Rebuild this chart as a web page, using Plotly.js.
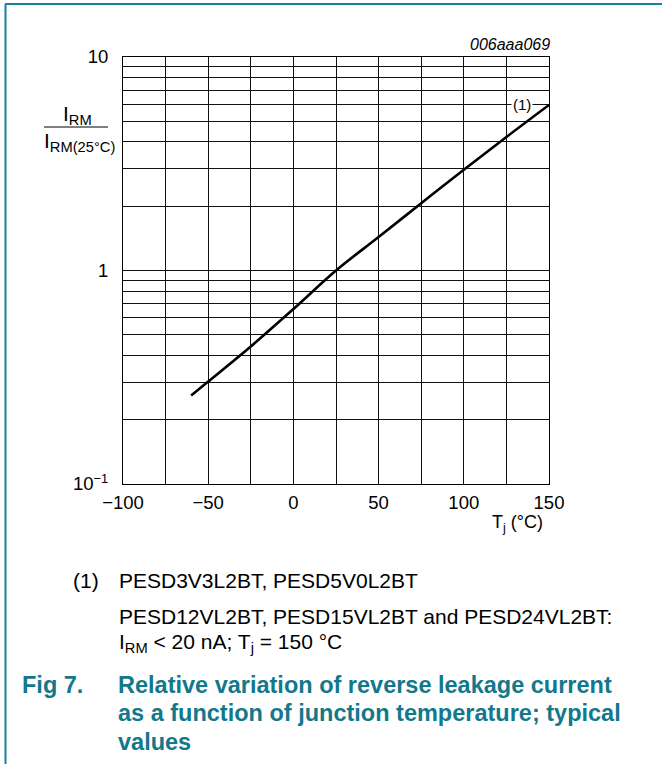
<!DOCTYPE html>
<html>
<head>
<meta charset="utf-8">
<script src="https://cdn.plot.ly/plotly-3.0.1.min.js"></script>
<style>
html,body{margin:0;padding:0;background:#fff;}
#chart{width:662px;height:764px;}
</style>
</head>
<body>
<div id="chart"></div>
<script>
// Data
const tempC = [-60, -50, -25, 0, 25, 50, 75, 100, 125, 150];
const relIrm = [0.26, 0.302, 0.441, 0.66, 1.0, 1.435, 2.065, 2.965, 4.22, 5.96];
const xTickVals = [-100, -75, -50, -25, 0, 25, 50, 75, 100, 125, 150];
const xTickText = ['\u2212100', '', '\u221250', '', '0', '', '50', '', '100', '', '150'];
const yGridVals = [0.1,0.2,0.3,0.4,0.5,0.6,0.7,0.8,0.9,1,2,3,4,5,6,7,8,9,10];
const yLabelVals = {0.1: '10<sup>\u22121</sup>', 1: '1', 10: '10'};
const yTickText = yGridVals.map(v => yLabelVals[v] || '');

// plot area in pixels
const W = 662, H = 764;
const L = 123, R = 549, T = 57, B = 484;
const px = x => (x - L) / (R - L);
const py = y => (B - y) / (B - T);

const font = 'Liberation Sans, Arial, Helvetica, sans-serif';
const teal = '#12788b';

const trace = {
  x: tempC, y: relIrm, type: 'scatter', mode: 'lines',
  line: {color: '#000', width: 2.6, shape: 'spline', smoothing: 1},
  hoverinfo: 'skip'
};

const ann = (text, x, y, opts) => Object.assign({
  text, x: px(x), y: py(y), xref: 'paper', yref: 'paper',
  showarrow: false, xanchor: 'left', yanchor: 'middle', borderpad: 0,
  font: {family: font, size: 18, color: '#000'}
}, opts || {});

const capFont = {family: font, size: 21, color: '#000'};
const figFont = {family: font, size: 23.5, color: teal};

const layout = {
  width: W, height: H,
  margin: {l: L, r: W - R, t: T, b: H - B, pad: 0},
  paper_bgcolor: '#fff', plot_bgcolor: '#fff',
  showlegend: false,
  font: {family: font, size: 18, color: '#000'},
  xaxis: {
    range: [-100, 150],
    tickmode: 'array', tickvals: xTickVals, ticktext: xTickText,
    showgrid: true, gridcolor: '#111', gridwidth: 1,
    showline: true, linecolor: '#000', linewidth: 1, mirror: true,
    ticks: '', ticklabelstandoff: 2, zeroline: false,
    tickfont: {family: font, size: 18.5, color: '#000'}
  },
  yaxis: {
    type: 'log', range: [-1, 1],
    tickmode: 'array', tickvals: yGridVals, ticktext: yTickText,
    showgrid: true, gridcolor: '#111', gridwidth: 1,
    showline: true, linecolor: '#000', linewidth: 1, mirror: true,
    ticks: '', ticklabelstandoff: 10, zeroline: false,
    tickfont: {family: font, size: 18.5, color: '#000'}
  },
  annotations: [
    {text: '(1)', x: 134, y: Math.log10(6), xref: 'x', yref: 'y', showarrow: false,
     bgcolor: '#fff', borderpad: 1, xanchor: 'center', yanchor: 'middle',
     font: {family: font, size: 15, color: '#000'}},
    ann('<i>006aaa069</i>', 551, 45, {xanchor: 'right', font: {family: font, size: 16, color: '#000'}}),
    ann('I<sub>RM</sub>', 77, 115, {xanchor: 'center', font: {family: font, size: 21, color: '#000'}}),
    ann('I<sub>RM(25\u00b0C)</sub>', 43, 142, {font: {family: font, size: 21, color: '#000'}}),
    ann('T<sub>j</sub> (\u00b0C)', 491, 523, {font: {family: font, size: 18, color: '#000'}}),
    ann('(1)', 72, 580, {font: capFont}),
    ann('PESD3V3L2BT, PESD5V0L2BT', 118, 580, {font: capFont}),
    ann('PESD12VL2BT, PESD15VL2BT and PESD24VL2BT:', 118, 616, {font: capFont}),
    ann('I<sub>RM</sub> < 20 nA; T<sub>j</sub> = 150 \u00b0C', 118, 643, {font: capFont}),
    ann('<b>Fig 7.</b>', 21, 685, {font: figFont}),
    ann('<b>Relative variation of reverse leakage current</b>', 117, 685, {font: figFont}),
    ann('<b>as a function of junction temperature; typical</b>', 117, 713, {font: figFont}),
    ann('<b>values</b>', 117, 742, {font: figFont})
  ],
  shapes: [
    {type: 'line', xref: 'paper', yref: 'paper', x0: px(44), x1: px(108), y0: py(127), y1: py(127),
     line: {color: '#000', width: 1}},
    {type: 'line', xref: 'paper', yref: 'paper', x0: px(5), x1: px(662), y0: py(4), y1: py(4),
     line: {color: '#1a8196', width: 2}},
    {type: 'line', xref: 'paper', yref: 'paper', x0: px(5.5), x1: px(5.5), y0: py(4), y1: py(764),
     line: {color: '#1a8196', width: 2}}
  ]
};

Plotly.newPlot('chart', [trace], layout, {staticPlot: true, displayModeBar: false});
</script>
</body>
</html>
